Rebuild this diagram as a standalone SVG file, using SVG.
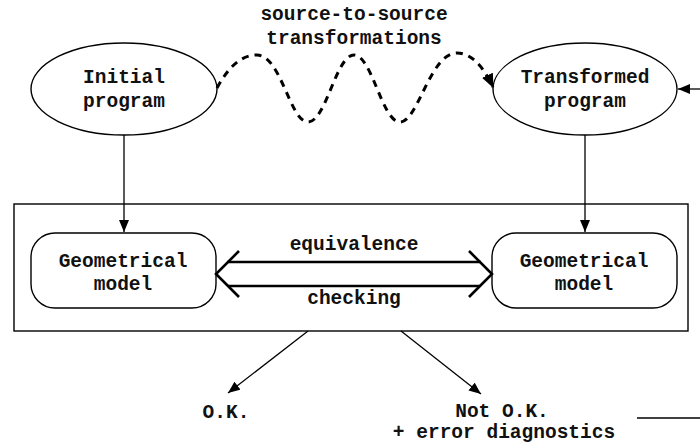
<svg xmlns="http://www.w3.org/2000/svg" width="700" height="447" viewBox="0 0 700 447">
  <style>
    text { font-family: "Liberation Mono", "Courier New", monospace; font-weight: bold; font-size: 19.5px; fill: #111; text-anchor: middle; }
    .shape { fill: #fff; stroke: #000; stroke-width: 1.4; }
    .edge { fill: none; stroke: #000; stroke-width: 1.3; }
    .wave { fill: none; stroke: #000; stroke-width: 3; stroke-dasharray: 7 6; }
    .dbl { fill: none; stroke: #000; stroke-width: 2.6; }
  </style>
  <defs>
    <marker id="arrow" viewBox="0 0 12 10" refX="12" refY="5" markerWidth="12" markerHeight="10" markerUnits="userSpaceOnUse" orient="auto">
      <path d="M0,0 L12,5 L0,10 z" fill="#000"/>
    </marker>
    <marker id="arrowBig" viewBox="0 0 14 12" refX="13" refY="6" markerWidth="14" markerHeight="12" markerUnits="userSpaceOnUse" orient="auto">
      <path d="M0,0 L14,6 L0,12 z" fill="#000"/>
    </marker>
  </defs>

  <!-- caption of the transformation step -->
  <g id="caption">
    <text x="354" y="20">source-to-source</text>
    <text x="354" y="44">transformations</text>
  </g>

  <!-- checker enclosure -->
  <g id="checker">
    <rect class="shape" x="14" y="204" width="674" height="127" fill="none"/>
  </g>

  <g id="initial-program">
    <ellipse class="shape" cx="124" cy="89" rx="93" ry="46"/>
    <text x="124" y="83">Initial</text>
    <text x="124" y="107">program</text>
  </g>

  <g id="transformed-program">
    <ellipse class="shape" cx="585" cy="89" rx="92" ry="46"/>
    <text x="585" y="83">Transformed</text>
    <text x="585" y="107">program</text>
  </g>

  <g id="model-left">
    <rect class="shape" x="31" y="233" width="185" height="75" rx="24" ry="24"/>
    <text x="123" y="267">Geometrical</text>
    <text x="123" y="290">model</text>
  </g>

  <g id="model-right">
    <rect class="shape" x="492" y="233" width="185" height="75" rx="24" ry="24"/>
    <text x="584" y="267">Geometrical</text>
    <text x="584" y="290">model</text>
  </g>

  <g id="result-ok">
    <text x="226" y="418">O.K.</text>
  </g>

  <g id="result-not-ok">
    <text x="502" y="417">Not O.K.</text>
    <text x="504" y="438">+ error diagnostics</text>
  </g>

  <g id="connectors">
    <!-- wavy dashed transformation path -->
    <path class="wave" marker-end="url(#arrowBig)"
          d="M217,88 C230,64 243,55 257,55 C281,55 290,122 308,122 C326,122 336,55 354,55 C372,55 382,122 400,122 C418,122 430,53 457,53 C472,53 484,68 493,87"/>
    <!-- programs down to their models -->
    <line class="edge" x1="124" y1="135" x2="124" y2="232" marker-end="url(#arrow)"/>
    <line class="edge" x1="585" y1="135" x2="585" y2="232" marker-end="url(#arrow)"/>
    <!-- incoming from the right -->
    <line class="edge" x1="700" y1="89" x2="678" y2="89" marker-end="url(#arrow)"/>
    <!-- equivalence double arrow -->
    <g id="equivalence">
      <line class="dbl" x1="227" y1="262" x2="481" y2="262"/>
      <line class="dbl" x1="228" y1="286" x2="480" y2="286"/>
      <polyline class="dbl" points="239,251 216,274 239,297"/>
      <polyline class="dbl" points="469,251 492,274 469,297"/>
      <text x="354" y="250">equivalence</text>
      <text x="354" y="304">checking</text>
    </g>
    <!-- outcomes -->
    <line class="edge" x1="308" y1="331" x2="228" y2="393" marker-end="url(#arrow)"/>
    <line class="edge" x1="401" y1="331" x2="481" y2="394" marker-end="url(#arrow)"/>
    <line class="edge" x1="637" y1="418" x2="700" y2="418"/>
  </g>
</svg>
